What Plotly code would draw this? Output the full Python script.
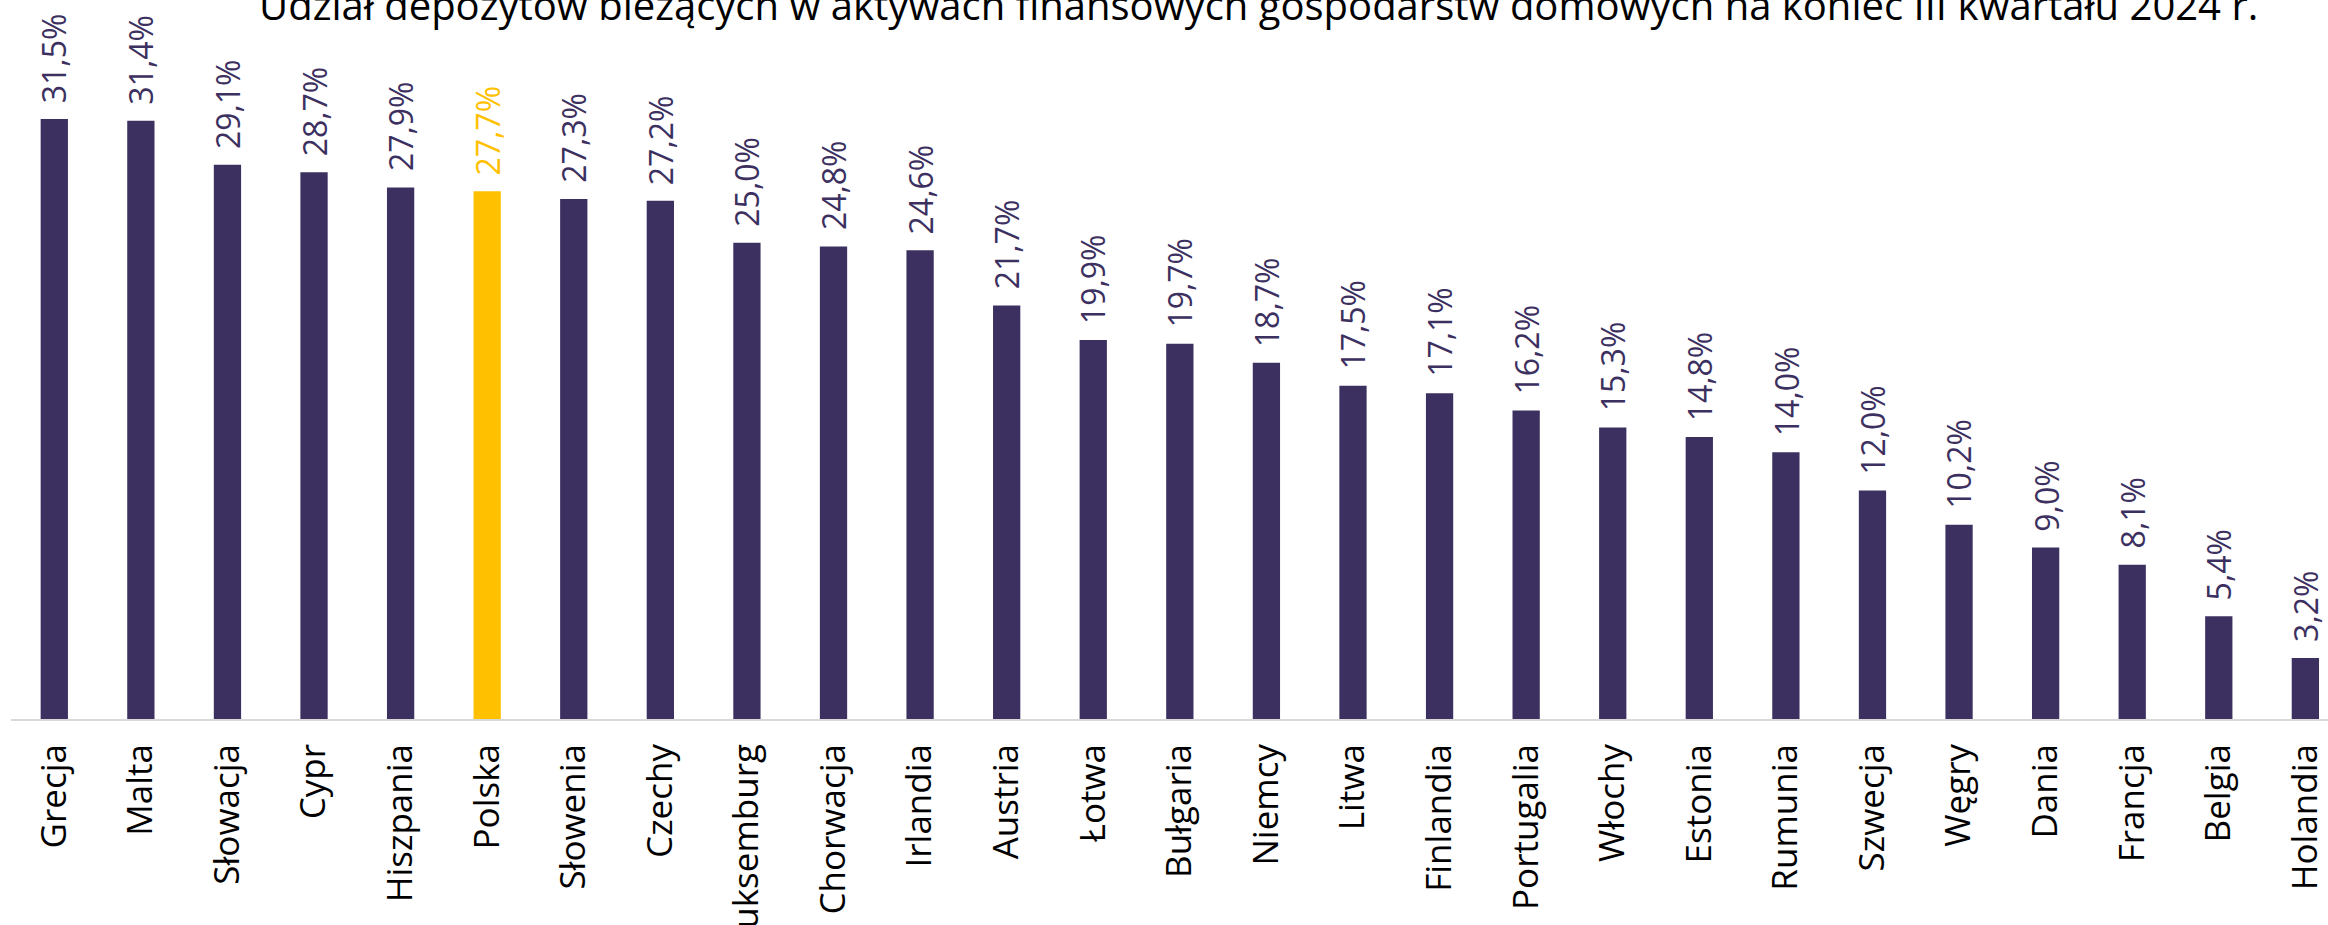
import plotly.graph_objects as go

countries = ["Grecja", "Malta", "Słowacja", "Cypr", "Hiszpania", "Polska", "Słowenia", "Czechy",
             "Luksemburg", "Chorwacja", "Irlandia", "Austria", "Łotwa", "Bułgaria", "Niemcy", "Litwa",
             "Finlandia", "Portugalia", "Włochy", "Estonia", "Rumunia", "Szwecja", "Węgry", "Dania",
             "Francja", "Belgia", "Holandia"]
values = [31.5, 31.4, 29.1, 28.7, 27.9, 27.7, 27.3, 27.2, 25.0, 24.8, 24.6, 21.7, 19.9, 19.7,
          18.7, 17.5, 17.1, 16.2, 15.3, 14.8, 14.0, 12.0, 10.2, 9.0, 8.1, 5.4, 3.2]
highlight = "Polska"
title_text = "Udział depozytów bieżących w aktywach finansowych gospodarstw domowych na koniec III kwartału 2024 r."

PURPLE = "#3C3060"
GOLD = "#FFC000"
colors = [GOLD if c == highlight else PURPLE for c in countries]

W, H = 2328, 925
L, R, T, B = 11, 0, 0, 206

fig = go.Figure()
fig.add_trace(go.Bar(
    x=countries, y=values, marker=dict(color=colors, line=dict(width=0)),
    width=0.315, hoverinfo="x+y",
))

annotations = []
for c, v, col in zip(countries, values, colors):
    annotations.append(dict(
        x=c, y=v, xref="x", yref="y", text=f"{v:.1f}%".replace(".", ","),
        showarrow=False, textangle=-90, yanchor="bottom", xanchor="center",
        yshift=14, font=dict(family="Open Sans", size=32, color=col),
    ))
annotations.append(dict(
    x=(1258 - L) / (W - L - R), y=1, xref="paper", yref="paper", text=title_text,
    showarrow=False, xanchor="center", yanchor="bottom", yshift=-34,
    font=dict(family="Open Sans", size=40, color="#000000"),
))

fig.update_layout(
    width=W, height=H, margin=dict(l=L, r=R, t=T, b=B, autoexpand=False),
    paper_bgcolor="white", plot_bgcolor="white", showlegend=False,
    annotations=annotations,
    xaxis=dict(type="category", range=[-0.5, -0.5 + (W - L - R) / 86.58],
               automargin=False,
               showline=True, linecolor="#D9D9D9", linewidth=2, showgrid=False,
               tickangle=-90, tickfont=dict(family="Open Sans", size=35, color="#000000"),
               ticklabelstandoff=9, zeroline=False),
    yaxis=dict(range=[0, (H - B - T) / 19.05], automargin=False, visible=False,
               showgrid=False, zeroline=False),
)

fig.write_html("out.html", config={"displayModeBar": False},
               post_script="document.body.style.margin='0px';")
